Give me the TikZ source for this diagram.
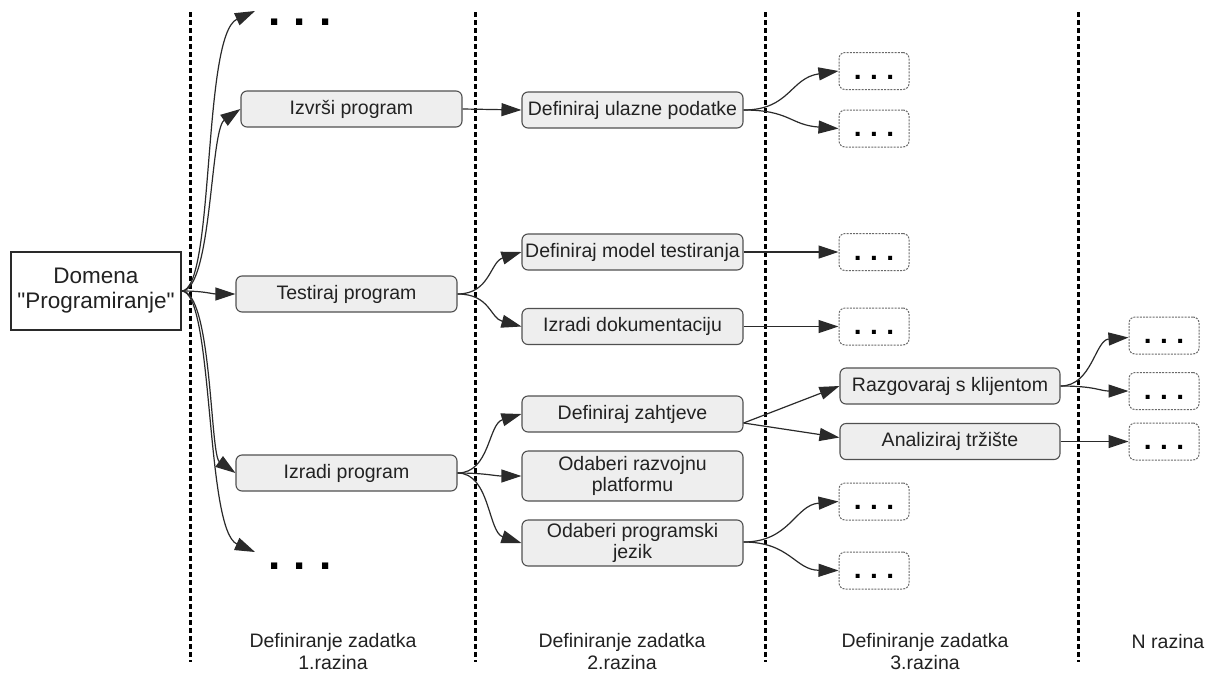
\documentclass[tikz,border=0pt]{standalone}
\usepackage{fontspec}
\setmainfont{Liberation Sans}[Ligatures=TeXOff]
\usetikzlibrary{arrows.meta}
\definecolor{boxfill}{HTML}{EEEEEE}
\definecolor{boxline}{HTML}{505050}
\definecolor{dotline}{HTML}{6A6A6A}
\definecolor{conline}{HTML}{2A2A2A}
\definecolor{txt}{HTML}{222222}
\newcommand\sdots{.\hspace{8.5pt}.\hspace{8.5pt}.}
\newcommand\bdots{.\hspace{13.5pt}.\hspace{13.5pt}.}
\begin{document}
\begin{tikzpicture}[x=1pt,y=-1pt,
 taskbox/.style={draw=boxline, fill=boxfill, rounded corners=6pt, line width=1.1pt, minimum width=221pt, minimum height=36pt, inner sep=0pt, align=center, text=txt, font=\fontsize{19.5}{20.5}\selectfont},
 dotbox/.style={draw=dotline, dash pattern=on 2pt off 1.2pt, rounded corners=6pt, line width=1pt, minimum width=70pt, minimum height=37pt, inner sep=0pt, text height=16pt, text depth=0pt, font=\fontsize{28}{28}\bfseries\selectfont},
 conn/.style={draw=conline, line width=1.2pt, -{Triangle[length=20pt,width=13pt]}},
 sepline/.style={line width=3pt, dash pattern=on 5pt off 3pt},
 lbl/.style={align=center, text=txt, font=\fontsize{19.5}{22}\selectfont},
 bigdots/.style={anchor=base, inner sep=0pt, font=\fontsize{44}{44}\bfseries\selectfont}]
\useasboundingbox (0,0) rectangle (1214,675);
\fill[white] (0,0) rectangle (1214,675);

% separators
\draw[sepline] (190,12) -- (190,662);
\draw[sepline] (475,12) -- (475,662);
\draw[sepline] (765,12) -- (765,662);
\draw[sepline] (1078,12) -- (1078,662);

% root
\node[draw=conline, line width=1.1pt, fill=white, minimum width=170pt, minimum height=78pt, inner sep=0pt, align=center, text=txt, font=\fontsize{22.5}{25}\selectfont] (dom) at (96,291) {Domena\\"Programiranje"};

% level 1
\node[taskbox] (e1) at (351.5,109) {Izvrši program};
\node[taskbox] (t1) at (346.5,294) {Testiraj program};
\node[taskbox] (i1) at (346.5,473) {Izradi program};
\node[bigdots] (tdots) at (300,25) {\bdots};
\node[bigdots] (bdots) at (300,569) {\bdots};
\coordinate (ctop) at (255,11);
\coordinate (cbot) at (255,552);

% level 2
\node[taskbox] (du) at (632.5,110) {Definiraj ulazne podatke};
\node[taskbox] (dm) at (632.5,252) {Definiraj model testiranja};
\node[taskbox] (dd) at (632.5,326.5) {Izradi dokumentaciju};
\node[taskbox] (dz) at (632.5,414) {Definiraj zahtjeve};
\node[taskbox, minimum height=50pt] (dr) at (632.5,476) {Odaberi razvojnu\\platformu};
\node[taskbox, minimum height=46pt] (dp) at (632.5,543) {Odaberi programski\\jezik};

% level 3
\node[dotbox] (b1) at (874,71) {\sdots};
\node[dotbox] (b2) at (874,128.5) {\sdots};
\node[dotbox] (b3) at (874,252) {\sdots};
\node[dotbox] (b4) at (874,326.5) {\sdots};
\node[dotbox] (b5) at (874,501.5) {\sdots};
\node[dotbox] (b6) at (874,570.5) {\sdots};
\node[taskbox, minimum width=220pt] (rk) at (950,386) {Razgovaraj s klijentom};
\node[taskbox, minimum width=220pt] (at) at (950,441.5) {Analiziraj tržište};

% level 4
\node[dotbox] (c1) at (1164,335.5) {\sdots};
\node[dotbox] (c2) at (1164,391) {\sdots};
\node[dotbox] (c3) at (1164,441.5) {\sdots};

% labels
\node[lbl] (l1) at (333,652) {Definiranje zadatka\\1.razina};
\node[lbl] (l2) at (622,652) {Definiranje zadatka\\2.razina};
\node[lbl] (l3) at (925,652) {Definiranje zadatka\\3.razina};
\node[lbl, anchor=base] (l4) at (1168,648) {N razina};

% connectors from root
\draw[conn] (dom.east) .. controls (215,291) and (202,35) .. (ctop);
\draw[conn] (dom.east) .. controls (212,291) and (210,130) .. (e1.west);
\draw[conn] (dom.east) .. controls (205,291) and (212,294) .. (t1.west);
\draw[conn] (dom.east) .. controls (212,291) and (210,455) .. (i1.west);
\draw[conn] (dom.east) .. controls (214,291) and (205,530) .. (cbot);

% level 1 -> 2
\draw[conn] (e1.east) -- (du.west);
\draw[conn] (t1.east) .. controls (490,294) and (490,262) .. (dm.west);
\draw[conn] (t1.east) .. controls (490,294) and (490,318) .. (dd.west);
\draw[conn] (i1.east) .. controls (490,473) and (488,424) .. (dz.west);
\draw[conn] (i1.east) .. controls (485,473) and (495,476) .. (dr.west);
\draw[conn] (i1.east) .. controls (490,473) and (488,532) .. (dp.west);

% level 2 -> 3
\draw[conn] (du.east) .. controls (790,110) and (790,78) .. (b1.west);
\draw[conn] (du.east) .. controls (790,110) and (790,125) .. (b2.west);
\draw[conn] (dm.east) -- (b3.west);
\draw[conn] (dd.east) -- (b4.west);
\draw[conn] ([yshift=-9pt]dz.east) -- (rk.west);
\draw[conn] ([yshift=-9pt]dz.east) -- ([yshift=4pt]at.west);
\draw[conn] ([yshift=1pt]dp.east) .. controls (790,542) and (795,505) .. (b5.west);
\draw[conn] ([yshift=1pt]dp.east) .. controls (790,542) and (795,570) .. (b6.west);

% level 3 -> 4
\draw[conn] (rk.east) .. controls (1092,386) and (1095,340) .. ([yshift=-2pt]c1.west);
\draw[conn] (rk.east) .. controls (1095,386) and (1100,391) .. (c2.west);
\draw[conn] (at.east) -- (c3.west);
\end{tikzpicture}
\end{document}
